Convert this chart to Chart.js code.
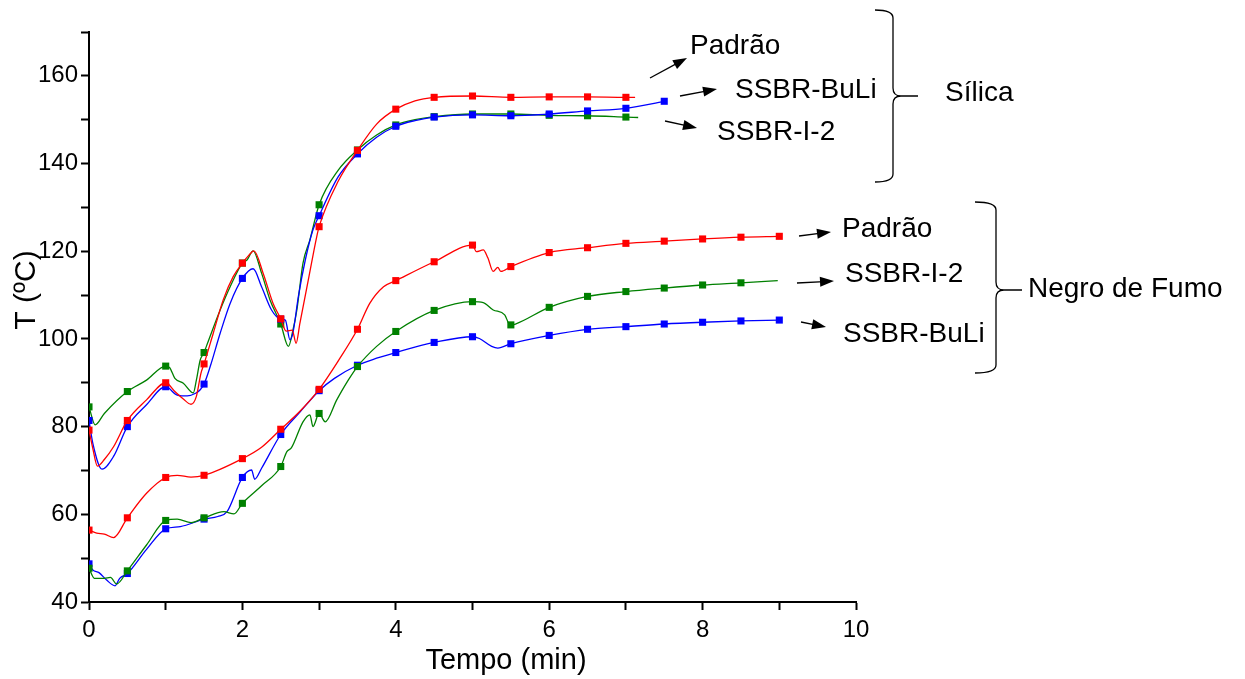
<!DOCTYPE html>
<html>
<head>
<meta charset="utf-8">
<script src="https://cdn.jsdelivr.net/npm/chart.js@4.4.1/dist/chart.umd.min.js"></script>
<style>
  body { margin: 0; background: #fff; }
  #wrap { width: 1245px; height: 679px; }
</style>
</head>
<body>
<div id="wrap"><canvas id="tempChart" width="1245" height="679"></canvas></div>
<script>
// Sílica compounds (time in min, temperature in °C)
const tSilPadrao = [0, 0.05, 0.11, 0.2, 0.32, 0.5, 0.75, 1, 1.12, 1.23, 1.33, 1.4, 1.46, 1.5, 1.62, 1.75, 1.88, 2, 2.08, 2.15, 2.27, 2.4, 2.5, 2.57, 2.65, 2.7, 2.75, 2.86, 2.97, 3, 3.25, 3.5, 3.75, 4, 4.25, 4.5, 5, 5.5, 6, 6.5, 7, 7.12];
const ySilPadrao = [79.2, 75, 71.0, 72.5, 75.4, 81.4, 86.1, 90.0, 88.0, 86.3, 85.1, 86.9, 92.2, 94.3, 101.3, 108.9, 114.2, 117.3, 119.0, 120.1, 115.0, 108.1, 104.6, 101.8, 102.0, 99.0, 103.6, 113.5, 123.4, 125.6, 136.0, 143.0, 149.0, 152.4, 154.3, 155.1, 155.4, 155.1, 155.2, 155.2, 155.1, 155.1];

const tSilBuLi = [0, 0.05, 0.17, 0.32, 0.5, 0.75, 1, 1.15, 1.28, 1.39, 1.45, 1.5, 1.58, 1.71, 1.84, 2, 2.14, 2.25, 2.38, 2.5, 2.56, 2.62, 2.66, 2.73, 2.82, 2.92, 3, 3.25, 3.5, 3.75, 4, 4.25, 4.5, 5, 5.5, 6, 6.5, 7, 7.5];
const ySilBuLi = [81.4, 76.2, 70.3, 73.2, 80.0, 85.0, 89.1, 87.2, 87.0, 87.6, 88.4, 89.7, 93.7, 101.3, 108.1, 113.8, 116.0, 111.9, 106.6, 104.5, 104.3, 99.8, 101.5, 109.7, 118.0, 124.9, 128.1, 137.0, 142.2, 146.0, 148.5, 149.8, 150.6, 151.1, 150.9, 151.3, 152.0, 152.6, 154.2];

const tSilI2 = [0, 0.08, 0.2, 0.5, 0.75, 1, 1.05, 1.12, 1.23, 1.36, 1.4, 1.45, 1.5, 1.53, 1.71, 1.84, 2, 2.06, 2.14, 2.25, 2.36, 2.5, 2.6, 2.66, 2.71, 2.79, 2.88, 3, 3.25, 3.5, 3.75, 4, 4.25, 4.5, 5, 5.5, 6, 6.5, 7, 7.16];
const ySilI2 = [84.5, 80.4, 83.0, 88.0, 90.6, 93.8, 93.5, 91.0, 89.9, 87.7, 90.6, 95.2, 96.9, 98.3, 106.6, 111.9, 117.3, 118.0, 120.1, 115.0, 108.9, 103.4, 98.3, 102.1, 106.6, 117.3, 122.6, 130.6, 138.5, 143.1, 146.5, 148.8, 150.0, 150.7, 151.3, 151.3, 151.0, 150.9, 150.6, 150.5];

// Negro de Fumo compounds
const tNfPadrao = [0, 0.1, 0.2, 0.32, 0.5, 0.75, 1, 1.15, 1.33, 1.5, 2, 2.25, 2.5, 2.75, 3, 3.25, 3.5, 3.66, 3.84, 4, 4.5, 5, 5.05, 5.14, 5.2, 5.27, 5.33, 5.37, 5.5, 6, 6.5, 7, 7.5, 8, 8.5, 9];
const yNfPadrao = [56.4, 55.7, 55.5, 54.7, 59.2, 64.8, 68.4, 68.9, 68.5, 68.9, 72.7, 75.3, 79.4, 83.5, 88.5, 95.0, 102.2, 108.1, 111.9, 113.3, 117.6, 121.4, 119.9, 120.3, 118.5, 115.4, 116.3, 115.4, 116.5, 119.7, 120.8, 121.8, 122.3, 122.8, 123.2, 123.4];

const tNfI2 = [0, 0.07, 0.2, 0.28, 0.36, 0.5, 0.75, 1, 1.15, 1.33, 1.5, 1.76, 1.89, 2, 2.25, 2.5, 2.58, 2.64, 2.79, 2.88, 2.92, 3, 3.08, 3.23, 3.38, 3.5, 3.75, 4, 4.5, 5, 5.14, 5.27, 5.42, 5.47, 5.5, 5.56, 6, 6.5, 7, 7.5, 8, 8.5, 8.98];
const yNfI2 = [47.7, 45.4, 45.4, 45.6, 44.1, 47.1, 53.0, 58.6, 58.9, 58.1, 59.2, 60.6, 60.1, 62.5, 66.5, 70.9, 74.3, 75.2, 81.1, 82.7, 80.0, 83.0, 81.1, 86.1, 90.6, 93.7, 98.3, 101.7, 106.5, 108.5, 108.3, 106.6, 105.5, 103.6, 103.2, 103.4, 107.2, 109.7, 110.8, 111.6, 112.3, 112.8, 113.3];

const tNfBuLi = [0, 0.05, 0.13, 0.23, 0.34, 0.4, 0.5, 0.75, 1, 1.19, 1.5, 1.68, 1.8, 2, 2.12, 2.16, 2.25, 2.5, 2.75, 3, 3.2, 3.5, 3.75, 4, 4.5, 5, 5.09, 5.25, 5.33, 5.5, 6, 6.5, 7, 7.5, 8, 8.5, 9];
const yNfBuLi = [48.7, 47.3, 46.7, 45.0, 43.7, 45.4, 46.5, 52.0, 56.7, 57.2, 58.9, 59.5, 60.6, 68.4, 70.1, 68.0, 70.5, 78.2, 83.3, 88.2, 91.0, 94.0, 95.6, 96.9, 99.2, 100.5, 100.1, 98.3, 97.9, 98.9, 100.8, 102.2, 102.8, 103.4, 103.8, 104.1, 104.3];

// axis ticks
const xMajorLabels = [0, 2, 4, 6, 8, 10];
const yMajorLabels = [40, 60, 80, 100, 120, 140, 160];

const RED = '#ff0000', GREEN = '#008000', BLUE = '#0000ff';
const FONT = '"Liberation Sans", Arial, sans-serif';

function pts(ts, ys) {
  return ts.map((t, i) => ({ x: t, y: ys[i] }));
}
// markers sit on every half minute
function markerRadius(ctx) {
  const x = ctx.raw ? ctx.raw.x : NaN;
  return Math.abs(x * 2 - Math.round(x * 2)) < 1e-6 ? 5 : 0;
}
function series(ts, ys, color) {
  return {
    data: pts(ts, ys),
    borderColor: color,
    backgroundColor: color,
    borderWidth: 1.3,
    pointStyle: 'rect',
    pointRadius: markerRadius,
    pointBorderWidth: 0,
    cubicInterpolationMode: 'monotone'
  };
}

function arrow(c, x0, y0, x1, y1) {
  const a = Math.atan2(y1 - y0, x1 - x0);
  const L = 14, W = 5;
  c.beginPath();
  c.moveTo(x0, y0);
  c.lineTo(x1 - L * 0.7 * Math.cos(a), y1 - L * 0.7 * Math.sin(a));
  c.stroke();
  c.beginPath();
  c.moveTo(x1, y1);
  c.lineTo(x1 - L * Math.cos(a) - W * Math.sin(a), y1 - L * Math.sin(a) + W * Math.cos(a));
  c.lineTo(x1 - L * Math.cos(a) + W * Math.sin(a), y1 - L * Math.sin(a) - W * Math.cos(a));
  c.closePath();
  c.fill();
}
function brace(c, xL, xV, xTip, yTop, yMid, yBot) {
  const r = 8;
  c.beginPath();
  c.moveTo(xL, yTop);
  c.quadraticCurveTo(xV, yTop, xV, yTop + r);
  c.lineTo(xV, yMid - r);
  c.quadraticCurveTo(xV, yMid, xV + r, yMid);
  c.lineTo(xTip, yMid);
  c.moveTo(xV + r, yMid);
  c.quadraticCurveTo(xV, yMid, xV, yMid + r);
  c.lineTo(xV, yBot - r);
  c.quadraticCurveTo(xV, yBot, xL, yBot);
  c.stroke();
}

const annotations = {
  id: 'annotations',
  afterDraw(chart) {
    const c = chart.ctx;
    c.save();
    c.strokeStyle = '#000';
    c.fillStyle = '#000';
    c.lineWidth = 1.3;
    arrow(c, 650, 78, 687, 58);
    arrow(c, 680, 96, 717, 89);
    arrow(c, 665, 121, 697, 128);
    arrow(c, 799, 236, 831, 232);
    arrow(c, 797, 283, 834, 281);
    arrow(c, 801, 322, 826, 327);
    brace(c, 875, 893, 918, 10, 96, 182);
    brace(c, 975, 996, 1022, 202, 290, 373);

    c.font = '28px ' + FONT;
    c.textBaseline = 'middle';
    c.textAlign = 'left';
    c.fillText('Padrão', 690, 46);
    c.fillText('SSBR-BuLi', 735, 90);
    c.fillText('SSBR-I-2', 717, 132);
    c.fillText('Sílica', 945, 93);
    c.fillText('Padrão', 842, 229);
    c.fillText('SSBR-I-2', 845, 274);
    c.fillText('SSBR-BuLi', 843, 334);
    c.fillText('Negro de Fumo', 1028, 289);

    // axis titles
    c.textAlign = 'center';
    c.font = '29px ' + FONT;
    c.fillText('Tempo (min)', 506, 661);
    c.translate(27, 290);
    c.rotate(-Math.PI / 2);
    c.font = '30px ' + FONT;
    c.fillText('T (ºC)', 0, 0);
    c.restore();
  }
};

new Chart(document.getElementById('tempChart'), {
  type: 'line',
  data: {
    datasets: [
      series(tSilPadrao, ySilPadrao, RED),
      series(tSilBuLi, ySilBuLi, BLUE),
      series(tSilI2, ySilI2, GREEN),
      series(tNfPadrao, yNfPadrao, RED),
      series(tNfI2, yNfI2, GREEN),
      series(tNfBuLi, yNfBuLi, BLUE)
    ]
  },
  options: {
    responsive: false,
    animation: false,
    events: [],
    layout: { padding: { left: 0, top: 32, right: 389, bottom: 0 } },
    plugins: { legend: { display: false }, tooltip: { enabled: false } },
    scales: {
      x: {
        type: 'linear',
        min: 0, max: 10,
        afterFit: s => { s.height = 77; },
        border: { display: true, color: '#000', width: 2 },
        grid: { drawOnChartArea: false, drawTicks: true, tickLength: 8, tickColor: '#000', tickWidth: 2 },
        ticks: {
          stepSize: 1,
          color: '#000',
          padding: 6,
          maxRotation: 0,
          font: { family: FONT, size: 24 },
          callback: v => xMajorLabels.includes(v) ? String(v) : ''
        }
      },
      y: {
        min: 40, max: 170,
        afterFit: s => { s.width = 89; },
        border: { display: true, color: '#000', width: 2 },
        grid: { drawOnChartArea: false, drawTicks: true, tickLength: 8, tickColor: '#000', tickWidth: 2 },
        ticks: {
          stepSize: 10,
          color: '#000',
          padding: 3,
          font: { family: FONT, size: 24 },
          callback: v => yMajorLabels.includes(v) ? String(v) : ''
        }
      }
    }
  },
  plugins: [annotations]
});
</script>
</body>
</html>
